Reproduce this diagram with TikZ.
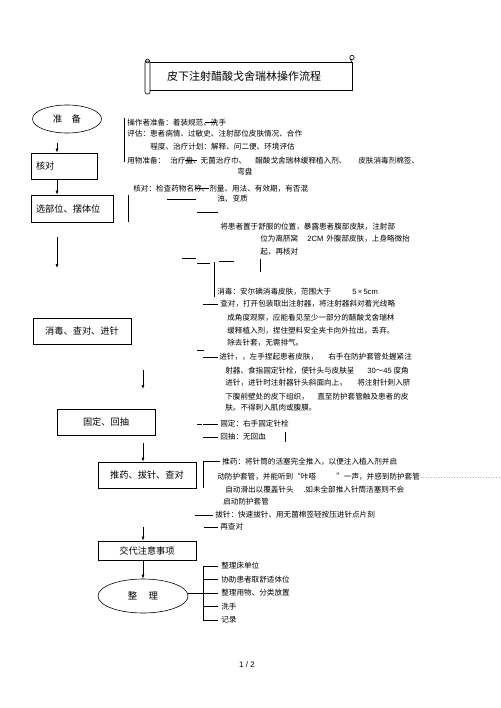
\documentclass[tikz,border=0pt]{standalone}
\usepackage{fontspec}
\setmainfont{Noto Sans CJK SC}
\newfontfamily\latinsans{Liberation Sans}
\usetikzlibrary{shapes.geometric,arrows.meta}
\begin{document}
\begin{tikzpicture}[x=1pt,y=-1pt,
  every path/.style={line width=0.6pt},
  box/.style={draw,rectangle,inner sep=0pt,font=\fontsize{9.2}{10}\selectfont},
  oval/.style={draw,ellipse,inner sep=0pt,font=\fontsize{9.4}{10}\selectfont},
  arr/.style={-{Latex[length=4pt,width=3pt]}},
  tx/.style={anchor=west,inner sep=0pt,font=\fontsize{7.6}{9}\selectfont},
  thin/.style={line width=0.5pt}
]
\useasboundingbox (0,0) rectangle (500,708);
\fill[white] (0,0) rectangle (500,708);

% title scroll
\draw (150,62) -- (352,62) -- (352,90) -- (150,90);
\draw[rounded corners=2pt] (145,61) rectangle (150,94);
\draw (147.5,61) circle (2pt);
\draw (352,57.5) circle (2.2pt);
\draw (350,59) -- (352,62);
\node[inner sep=0pt,font=\fontsize{11}{12}\selectfont] (title) at (244,76) {皮下注射醋酸戈舍瑞林操作流程};

% left flow
\node[oval,minimum width=69,minimum height=28] (zb) at (67,119) {准\hspace{1em}备};
\node[box,minimum width=66,minimum height=26,text width=56,align=left] (hd) at (64,166) {核对};
\node[box,minimum width=82,minimum height=27,text width=72,align=left] (xb) at (72,208.5) {选部位、摆体位};
\node[box,minimum width=98,minimum height=26] (xd) at (82,331) {消毒、查对、进针};
\node[box,minimum width=98,minimum height=26] (gd) at (106,422) {固定、回抽};
\node[box,minimum width=98,minimum height=26] (ty) at (147,475) {推药、拔针、查对};
\node[box,minimum width=98,minimum height=19] (jd) at (147,550.5) {交代注意事项};
\node[oval,minimum width=90,minimum height=34] (zl) at (143,596) {整\hspace{1.2em}理};

\coordinate (c1) at (57,143);
\draw[arr] (c1) -- (c1 |- hd.north);
\coordinate (c2) at (57,179);
\draw[arr] (c2) -- (c2 |- xb.north);
\coordinate (c3a) at (57,237);
\coordinate (c3b) at (57,268);
\draw[arr] (c3a) -- (c3b);
\coordinate (c4a) at (143,370);
\coordinate (c4b) at (143,389);
\draw[arr] (c4a) -- (c4b);
\coordinate (c5) at (143,443);
\draw[arr] (c5) -- (c5 |- ty.north);
\coordinate (c6) at (143,527);
\draw[arr] (c6) -- (c6 |- jd.north);
\coordinate (c7) at (143,560);
\draw[arr] (c7) -- (c7 |- zl.north);

% bottom bracket
\coordinate (bk) at (203,593);
\draw (zl.east |- bk) -- (bk);
\draw (218,566) -- (203,566) -- (203,620) -- (218,620);
\draw (203,579.5) -- (218,579.5);
\draw (203,593) -- (218,593);
\draw (203,606.5) -- (218,606.5);
\node[tx] (b1) at (221,566) {整理床单位};
\node[tx] (b2) at (221,579.5) {协助患者取舒适体位};
\node[tx] (b3) at (221,593) {整理用物、分类放置};
\node[tx] (b4) at (221,606.5) {洗手};
\node[tx] (b5) at (221,620) {记录};

% right text: preparation
\draw[thin] (124,118) -- (124,162);
\node[tx] (p1) at (127,123) {操作者准备：着装规范、洗手};
\draw[thin] (205,122.5) -- (216,122.5);
\node[tx] (p2) at (127,134) {评估：患者病情、过敏史、注射部位皮肤情况、合作};
\node[tx] (p3) at (150,147) {程度、治疗计划：解释、问二便、环境评估};
\node[tx] (p4a) at (127,161) {用物准备：};
\node[tx] (p4b) at (170,161) {治疗盘、无菌治疗巾、};
\draw[thin] (185,160) -- (197,160);
\node[tx] (p4c) at (255,161) {醋酸戈舍瑞林缓释植入剂、};
\node[tx] (p4d) at (358,161) {皮肤消毒剂棉签、};
\node[tx] (p5) at (237,172) {弯盘};
\node[tx] (p6) at (133,189) {核对：检查药物名称、剂量、用法、有效期，有否混};
\draw[thin] (196,188.5) -- (209,188.5);
\node[tx] (p7) at (217,199) {浊、变质};
\draw[thin] (167,199) -- (196,199);
\draw[thin] (197,212) -- (218,212);
\draw[thin] (128,195) -- (128,222);

% position
\node[tx] (q1) at (220,227) {将患者置于舒服的位置，暴露患者腹部皮肤，注射部};
\node[tx] (q2a) at (260,239) {位为离脐窝};
\node[tx] (q2b) at (307,239) {\latinsans 2CM};
\node[tx] (q2c) at (326,239) {外腹部皮肤，上身略微抬};
\node[tx] (q3) at (260,252) {起，再核对};
\draw[thin] (182,258) -- (196,258);
\draw[thin] (197,263) -- (210,263);
\draw[thin] (214,262) -- (214,297);
\draw[thin] (219,261) -- (234,261);
\draw[thin] (260,259) -- (260,272);

% disinfect / check / insert
\node[tx] (r1a) at (217,292) {消毒：安尔碘消毒皮肤，范围大于};
\node[tx] (r1b) at (352,292) {\latinsans 5\,×\,5cm};
\draw[thin] (203,304) -- (218,304);
\node[tx] (r2) at (220,304) {查对，打开包装取出注射器，将注射器斜对着光线略};
\node[tx] (r3) at (227,318) {成角度观察，应能看见至少一部分的醋酸戈舍瑞林};
\node[tx] (r4) at (227,331) {缓释植入剂，捏住塑料安全夹卡向外拉出，丢弃。};
\node[tx] (r5) at (227,343) {除去针套，无需排气。};
\draw[thin] (197,350) -- (204,350);
\draw[thin] (203,357) -- (218,357);
\node[tx] (r6a) at (219,357) {进针，，左手捏起患者皮肤，};
\node[tx] (r6b) at (328,357) {右手在防护套管处握紧注};
\node[tx] (r7a) at (225,371) {射器、食指固定针栓，使针头与皮肤呈};
\node[tx] (r7b) at (367,371) {{\latinsans 30}～{\latinsans 45} 度角};
\node[tx] (r8a) at (225,383) {进针，进针时注射器针头斜面向上，};
\node[tx] (r8b) at (357,383) {将注射针刺入脐};
\node[tx] (r9a) at (225,397) {下腹前壁处的皮下组织，};
\node[tx] (r9b) at (317,397) {直至防护套管触及患者的皮};
\node[tx] (r10) at (225,408) {肤。不得刺入肌肉或腹膜。};

% fix / aspirate
\draw[thin] (197,424) -- (202,424);
\draw[thin] (203,424) -- (218,424);
\node[tx] (s1) at (220,424) {固定：右手固定针栓};
\draw[thin] (203,437) -- (218,437);
\node[tx] (s2) at (220,437) {回抽：无回血};
\draw[thin] (285,432) -- (285,442);

% push / withdraw / recheck
\draw[thin] (220,461) -- (203,461) -- (203,488);
\node[tx] (u1) at (222,462) {推药：将针筒的活塞完全推入，以便注入植入剂并启};
\node[tx] (u2a) at (217,477) {动防护套管，并能听到“咔嗒};
\node[tx] (u2b) at (336,477) {”一声，并感到防护套管};
\draw[gray!60,dotted,line width=0.4pt] (418,477) -- (500,477);
\node[tx] (u3a) at (225,490) {自动滑出以覆盖针头};
\node[tx] (u3b) at (303,490) {.如未全部推入针筒活塞则不会};
\node[tx] (u4) at (223,502) {启动防护套管};
\draw[thin] (195,515) -- (213,515);
\node[tx] (u5) at (215,515) {拔针：快速拔针、用无菌棉签轻按压进针点片刻};
\draw[thin] (204,527) -- (218,527);
\node[tx] (u6) at (220,527) {再查对};

% page number
\node[inner sep=0pt,font=\latinsans\fontsize{8}{9}\selectfont] (pg) at (247,665) {1 / 2};
\end{tikzpicture}
\end{document}
